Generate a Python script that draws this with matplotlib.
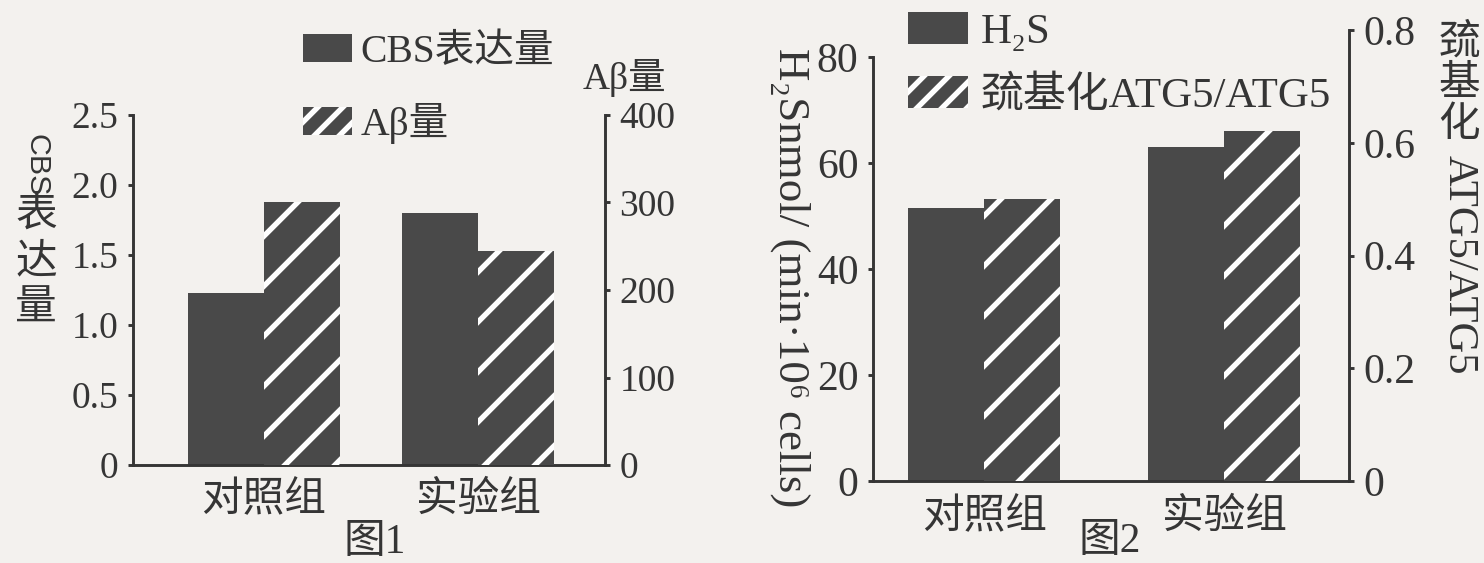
import numpy as np
import matplotlib
matplotlib.use("Agg")
import matplotlib.pyplot as plt
from matplotlib.patches import Patch

plt.rcParams['font.family'] = ['Liberation Serif', 'DejaVu Serif', 'Noto Sans CJK SC']
plt.rcParams['hatch.linewidth'] = 1.3
plt.rcParams['axes.unicode_minus'] = False

# ---- data ----
groups = ['对照组', '实验组']
cbs = [1.23, 1.80]          # CBS表达量 (left axis, 图1)
abeta = [300, 245]          # Aβ量 (right axis, 图1)
h2s = [51.5, 63.0]          # H2S nmol/(min·10^6 cells) (left axis, 图2)
atg5 = [0.50, 0.62]         # 巯基化ATG5/ATG5 (right axis, 图2)

cbs_ticks = [0, 0.5, 1.0, 1.5, 2.0, 2.5]
cbs_ticklabels = ['0', '0.5', '1.0', '1.5', '2.0', '2.5']
ab_ticks = [0, 100, 200, 300, 400]
h2s_ticks = [0, 20, 40, 60, 80]
atg_ticks = [0, 0.2, 0.4, 0.6, 0.8]
atg_ticklabels = ['0', '0.2', '0.4', '0.6', '0.8']

# ---- style ----
BG = '#f3f1ee'
BAR = '#494949'
INK = '#353535'
W, H = 1484, 563
DPI = 300


def box(l, t, r, b):
    # pixel box -> figure fraction [left, bottom, width, height]
    return [l / W, 1 - b / H, (r - l) / W, (b - t) / H]


def fx(px):
    return px / W


def fy(py):
    return 1 - py / H


def style_axes(ax, axb, ylabelsize, xpad):
    ax.set_facecolor('none')
    for s in ['top', 'right']:
        ax.spines[s].set_visible(False)
    for s in ['top', 'left', 'bottom']:
        axb.spines[s].set_visible(False)
    for a in (ax, axb):
        for s in a.spines.values():
            s.set_linewidth(0.7)
            s.set_color(INK)
    ax.tick_params(axis='y', direction='out', length=1.3, width=0.7, pad=2.2,
                   labelsize=ylabelsize, colors=INK)
    axb.tick_params(axis='y', direction='out', length=1.3, width=0.7, pad=2.2,
                    labelsize=ylabelsize, colors=INK)
    ax.tick_params(axis='x', length=0, pad=xpad, labelsize=10, colors=INK)


fig = plt.figure(figsize=(W / DPI, H / DPI), dpi=DPI, facecolor=BG)

# ---------------------------------------------------------------- 图1
x = np.arange(len(groups))
w1 = 0.355
ax1 = fig.add_axes(box(133, 115, 605, 465))
ax1b = ax1.twinx()
ax1.bar(x - w1 / 2, cbs, w1, color=BAR, linewidth=0)
ax1b.bar(x + w1 / 2, abeta, w1, color=BAR, edgecolor='white', hatch='//', linewidth=0)
ax1.set_xlim(-0.612, 1.593)
ax1.set_ylim(0, 2.5)
ax1b.set_ylim(0, 400)
ax1.set_xticks(x, groups)
ax1.set_yticks(cbs_ticks, cbs_ticklabels)
ax1b.set_yticks(ab_ticks)
style_axes(ax1, ax1b, 9, 4.0)

fig.text(fx(36), fy(134), 'CBS', rotation=-90, ha='center', va='top', fontsize=7.3,
         family=['Liberation Sans Narrow', 'Liberation Sans'], color=INK)
fig.text(fx(36), fy(197), '表\n达\n量', ha='center', va='top', fontsize=10,
         linespacing=1.28, color=INK)
fig.text(fx(624), fy(78), 'Aβ量', ha='center', va='center', fontsize=9, color=INK)
fig.text(fx(375), fy(543), '图1', ha='center', va='center', fontsize=10, color=INK)

fig.legend(handles=[Patch(facecolor=BAR, linewidth=0),
                    Patch(facecolor=BAR, edgecolor='white', hatch='////', linewidth=0)],
           labels=['CBS表达量', 'Aβ量'], loc='upper left',
           bbox_to_anchor=(fx(303), fy(34)), frameon=False, fontsize=9.5,
           handlelength=1.25, handleheight=0.7, handletextpad=0.2,
           labelspacing=0.8, borderpad=0, borderaxespad=0, labelcolor=INK)

# ---------------------------------------------------------------- 图2
w2 = 0.317
ax2 = fig.add_axes(box(873, 30, 1349, 481))
ax2b = ax2.twinx()
ax2.bar(x - w2 / 2, h2s, w2, color=BAR, linewidth=0)
ax2b.bar(x + w2 / 2, atg5, w2, color=BAR, edgecolor='white', hatch='//', linewidth=0)
ax2.set_xlim(-0.4625, 1.52)
ax2.set_ylim(0, 80 * 451 / 424)
ax2.spines['left'].set_bounds(0, 80)
ax2b.set_ylim(0, 0.8)
ax2.set_xticks(x, groups)
ax2.set_yticks(h2s_ticks)
ax2b.set_yticks(atg_ticks, atg_ticklabels)
style_axes(ax2, ax2b, 10, 4.2)

fig.text(fx(790), fy(48), 'H₂Snmol/ (min·10⁶ cells)', rotation=-90, ha='center', va='top',
         fontsize=10.8, color=INK)
fig.text(fx(1459), fy(24), '巯\n基\n化', ha='center', va='top', fontsize=10,
         linespacing=1.1, color=INK)
fig.text(fx(1459), fy(155), 'ATG5/ATG5', rotation=-90, ha='center', va='top',
         fontsize=10.2, color=INK)
fig.text(fx(1110), fy(542), '图2', ha='center', va='center', fontsize=10, color=INK)

fig.legend(handles=[Patch(facecolor=BAR, linewidth=0),
                    Patch(facecolor=BAR, edgecolor='white', hatch='////', linewidth=0)],
           labels=['H₂S', '巯基化ATG5/ATG5'], loc='upper left',
           bbox_to_anchor=(fx(908), fy(12)), frameon=False, fontsize=10.3,
           handlelength=1.4, handleheight=0.78, handletextpad=0.3,
           labelspacing=0.55, borderpad=0, borderaxespad=0, labelcolor=INK)

fig.savefig('out.png', dpi=DPI, facecolor=BG)
